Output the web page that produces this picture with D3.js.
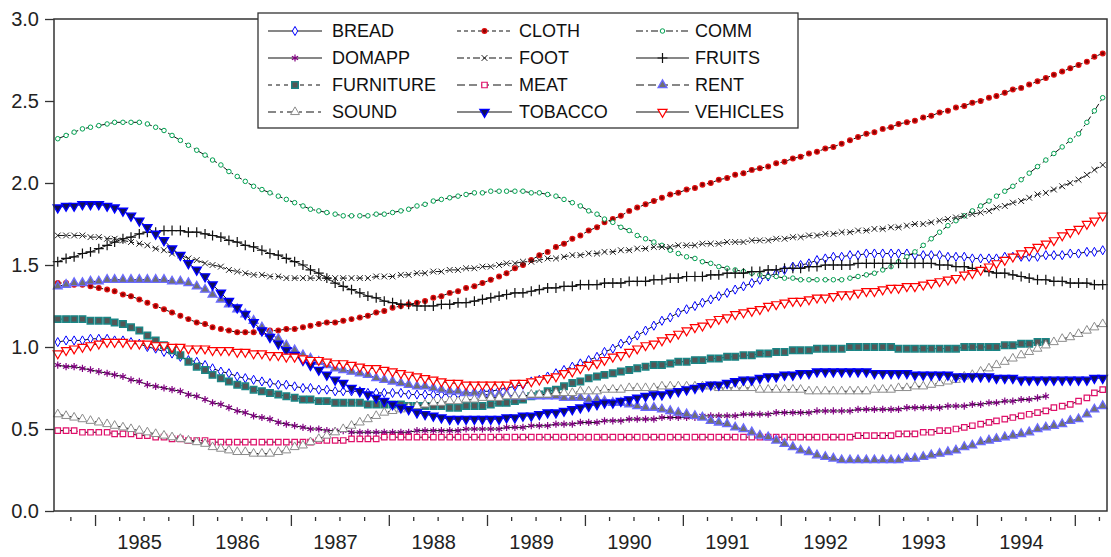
<!DOCTYPE html>
<html>
<head>
<meta charset="utf-8">
<script src="https://cdn.jsdelivr.net/npm/d3@7"></script>
<style>
  body { margin: 0; background: #fff; }
  svg { display: block; font-family: "Liberation Sans", Arial, sans-serif; }
</style>
</head>
<body>
<div id="chart"></div>
<script>
// monthly observations 1984:08 .. 1995:04
var nObs = 129;
var months = d3.range(nObs).map(function (i) { return new Date(1984, 7 + i, 15); });
var yearLabels = d3.range(1985, 1995);
var yTicks = [0, 0.5, 1, 1.5, 2, 2.5, 3];

var bread = [1.03,1.04,1.04,1.04,1.05,1.05, 1.05,1.04,1.04,1.03,1.02,1.00, 0.99,0.97,0.96,0.94,0.92,0.91,
  0.89,0.87,0.85,0.84,0.82,0.81, 0.80,0.79,0.78,0.77,0.77,0.76, 0.75,0.75,0.74,0.74,0.73,0.73,
  0.73,0.73,0.72,0.72,0.72,0.72, 0.72,0.71,0.71,0.71,0.71,0.71, 0.71,0.71,0.72,0.72,0.73,0.73,
  0.74,0.75,0.76,0.77,0.79,0.80, 0.82,0.84,0.86,0.88,0.90,0.92, 0.94,0.97,0.99,1.02,1.04,1.07,
  1.10,1.13,1.16,1.18,1.21,1.23, 1.25,1.27,1.29,1.31,1.33,1.35, 1.37,1.39,1.41,1.43,1.45,1.47,
  1.49,1.50,1.51,1.53,1.54,1.55, 1.55,1.56,1.56,1.57,1.57,1.57, 1.57,1.57,1.57,1.56,1.56,1.56,
  1.56,1.55,1.55,1.55,1.54,1.54, 1.54,1.54,1.55,1.55,1.55,1.55, 1.55,1.56,1.56,1.56,1.57,1.57,
  1.58,1.58,1.59];

var cloth = [1.39,1.39,1.38,1.38,1.37,1.36, 1.35,1.34,1.32,1.31,1.29,1.27, 1.25,1.23,1.21,1.19,1.17,1.15,
  1.14,1.12,1.11,1.10,1.09,1.09, 1.09,1.09,1.10,1.10,1.11,1.11, 1.12,1.13,1.14,1.15,1.15,1.16,
  1.17,1.18,1.19,1.21,1.22,1.24, 1.25,1.26,1.27,1.28,1.30,1.31, 1.33,1.34,1.36,1.37,1.39,1.41,
  1.43,1.45,1.48,1.50,1.53,1.56, 1.58,1.61,1.63,1.66,1.68,1.71, 1.73,1.76,1.78,1.80,1.83,1.85,
  1.87,1.89,1.91,1.93,1.94,1.96, 1.97,1.99,2.00,2.02,2.03,2.05, 2.06,2.08,2.09,2.10,2.12,2.13,
  2.15,2.16,2.18,2.19,2.21,2.22, 2.24,2.26,2.28,2.30,2.31,2.33, 2.34,2.36,2.37,2.38,2.40,2.41,
  2.43,2.44,2.46,2.47,2.49,2.50, 2.52,2.53,2.55,2.57,2.58,2.60, 2.62,2.64,2.66,2.68,2.70,2.72,
  2.74,2.77,2.79];

var comm = [2.27,2.29,2.31,2.33,2.34,2.35, 2.36,2.37,2.37,2.37,2.37,2.36, 2.34,2.32,2.29,2.26,2.23,2.20,
  2.17,2.14,2.11,2.07,2.04,2.01, 1.98,1.96,1.94,1.92,1.90,1.88, 1.86,1.84,1.83,1.82,1.81,1.80,
  1.80,1.80,1.80,1.81,1.81,1.82, 1.83,1.84,1.86,1.87,1.89,1.90, 1.91,1.92,1.93,1.94,1.94,1.95,
  1.95,1.95,1.95,1.95,1.94,1.94, 1.93,1.92,1.90,1.88,1.86,1.83, 1.81,1.78,1.76,1.73,1.71,1.68,
  1.66,1.64,1.62,1.59,1.57,1.55, 1.54,1.52,1.51,1.49,1.48,1.47, 1.46,1.45,1.44,1.43,1.43,1.42,
  1.42,1.41,1.41,1.41,1.41,1.41, 1.41,1.42,1.43,1.44,1.45,1.47, 1.49,1.52,1.55,1.58,1.62,1.66,
  1.70,1.74,1.77,1.80,1.83,1.86, 1.89,1.92,1.95,1.98,2.02,2.06, 2.10,2.14,2.18,2.22,2.26,2.30,
  2.37,2.44,2.52];

var domapp = [0.89,0.88,0.88,0.87,0.86,0.85, 0.84,0.83,0.82,0.80,0.79,0.77, 0.76,0.75,0.74,0.73,0.71,0.70,
  0.68,0.66,0.65,0.63,0.61,0.60, 0.58,0.57,0.56,0.54,0.53,0.52, 0.51,0.50,0.50,0.49,0.49,0.49,
  0.48,0.48,0.48,0.48,0.48,0.48, 0.48,0.48,0.49,0.49,0.49,0.49, 0.49,0.49,0.50,0.50,0.50,0.50,
  0.50,0.51,0.51,0.51,0.52,0.52, 0.52,0.53,0.53,0.53,0.54,0.54, 0.54,0.55,0.55,0.55,0.56,0.56,
  0.56,0.56,0.57,0.57,0.57,0.57, 0.57,0.58,0.58,0.58,0.58,0.58, 0.59,0.59,0.59,0.59,0.60,0.60,
  0.60,0.60,0.60,0.61,0.61,0.61, 0.61,0.61,0.62,0.62,0.62,0.62, 0.62,0.62,0.63,0.63,0.63,0.63,
  0.63,0.64,0.64,0.64,0.65,0.65, 0.66,0.66,0.67,0.67,0.68,0.68, 0.69,0.70];

var foot = [1.68,1.68,1.68,1.68,1.67,1.67, 1.66,1.66,1.65,1.64,1.63,1.62, 1.60,1.59,1.57,1.56,1.54,1.53,
  1.51,1.50,1.49,1.47,1.46,1.45, 1.44,1.44,1.43,1.43,1.42,1.42, 1.42,1.42,1.42,1.42,1.42,1.42,
  1.42,1.42,1.42,1.43,1.43,1.43, 1.44,1.44,1.45,1.45,1.46,1.46, 1.47,1.47,1.48,1.48,1.49,1.49,
  1.50,1.51,1.51,1.52,1.52,1.53, 1.54,1.54,1.55,1.56,1.56,1.57, 1.57,1.58,1.58,1.59,1.59,1.60,
  1.60,1.61,1.61,1.61,1.62,1.62, 1.62,1.63,1.63,1.63,1.64,1.64, 1.64,1.65,1.65,1.65,1.66,1.66,
  1.67,1.67,1.68,1.68,1.69,1.69, 1.70,1.70,1.71,1.71,1.72,1.72, 1.73,1.73,1.74,1.75,1.75,1.76,
  1.77,1.78,1.79,1.80,1.81,1.82, 1.83,1.85,1.86,1.88,1.89,1.91, 1.93,1.94,1.96,1.98,2.00,2.02,
  2.05,2.08,2.11];

var fruits = [1.52,1.54,1.55,1.57,1.58,1.60, 1.62,1.64,1.66,1.67,1.69,1.70, 1.70,1.71,1.71,1.71,1.70,1.70,
  1.69,1.68,1.67,1.65,1.64,1.62, 1.61,1.59,1.57,1.56,1.54,1.52, 1.50,1.47,1.45,1.42,1.39,1.37,
  1.35,1.33,1.31,1.30,1.28,1.27, 1.26,1.26,1.25,1.25,1.25,1.26, 1.26,1.27,1.27,1.28,1.29,1.30,
  1.31,1.32,1.33,1.33,1.34,1.35, 1.36,1.36,1.37,1.37,1.38,1.38, 1.38,1.39,1.39,1.39,1.40,1.40,
  1.40,1.41,1.41,1.42,1.42,1.43, 1.43,1.43,1.44,1.44,1.45,1.45, 1.45,1.46,1.46,1.47,1.47,1.48,
  1.48,1.48,1.49,1.49,1.50,1.50, 1.50,1.50,1.51,1.51,1.51,1.51, 1.51,1.51,1.51,1.51,1.51,1.51,
  1.50,1.50,1.49,1.49,1.48,1.47, 1.46,1.45,1.45,1.44,1.43,1.42, 1.41,1.41,1.40,1.40,1.39,1.39,
  1.39,1.38,1.38];

var furniture = [1.17,1.17,1.17,1.17,1.16,1.16, 1.16,1.15,1.14,1.12,1.10,1.07, 1.04,1.01,0.98,0.95,0.91,0.88,
  0.86,0.83,0.81,0.79,0.77,0.76, 0.74,0.73,0.72,0.71,0.70,0.69, 0.68,0.68,0.67,0.67,0.66,0.66,
  0.66,0.66,0.65,0.65,0.65,0.65, 0.65,0.64,0.64,0.64,0.64,0.64, 0.63,0.63,0.64,0.64,0.64,0.65,
  0.66,0.66,0.67,0.68,0.70,0.71, 0.73,0.74,0.76,0.78,0.79,0.81, 0.82,0.83,0.84,0.85,0.86,0.87,
  0.88,0.89,0.89,0.90,0.91,0.91, 0.92,0.92,0.93,0.93,0.94,0.94, 0.95,0.95,0.96,0.96,0.97,0.97,
  0.98,0.98,0.98,0.99,0.99,0.99, 0.99,1.00,1.00,1.00,1.00,1.00, 1.00,0.99,0.99,0.99,0.99,0.99,
  0.99,0.99,0.99,1.00,1.00,1.00, 1.00,1.00,1.01,1.01,1.02,1.02, 1.03,1.03];

var meat = [0.49,0.49,0.49,0.48,0.48,0.48, 0.48,0.47,0.47,0.47,0.46,0.46, 0.45,0.45,0.44,0.44,0.43,0.43,
  0.43,0.42,0.42,0.42,0.42,0.42, 0.42,0.42,0.42,0.42,0.42,0.42, 0.42,0.42,0.43,0.43,0.43,0.43,
  0.44,0.44,0.44,0.44,0.45,0.45, 0.45,0.45,0.45,0.45,0.45,0.45, 0.45,0.45,0.45,0.45,0.45,0.45,
  0.45,0.45,0.45,0.45,0.45,0.45, 0.45,0.45,0.45,0.45,0.45,0.45, 0.45,0.45,0.45,0.45,0.45,0.45,
  0.45,0.45,0.45,0.45,0.45,0.45, 0.45,0.45,0.45,0.45,0.45,0.45, 0.45,0.45,0.45,0.45,0.45,0.45,
  0.45,0.45,0.45,0.45,0.45,0.45, 0.45,0.45,0.46,0.46,0.46,0.46, 0.46,0.47,0.47,0.47,0.48,0.48,
  0.49,0.49,0.50,0.51,0.52,0.53, 0.54,0.55,0.56,0.57,0.58,0.59, 0.60,0.61,0.63,0.64,0.65,0.67,
  0.69,0.72,0.74];

var rent = [1.37,1.38,1.39,1.39,1.40,1.40, 1.41,1.41,1.41,1.41,1.41,1.41, 1.41,1.41,1.40,1.40,1.39,1.37,
  1.35,1.32,1.29,1.26,1.23,1.20, 1.16,1.12,1.08,1.05,1.01,0.98, 0.95,0.93,0.91,0.89,0.87,0.86,
  0.85,0.84,0.83,0.81,0.80,0.79, 0.78,0.77,0.76,0.76,0.75,0.74, 0.73,0.73,0.72,0.72,0.71,0.71,
  0.71,0.71,0.70,0.70,0.70,0.70, 0.70,0.70,0.69,0.69,0.69,0.68, 0.68,0.67,0.66,0.66,0.65,0.64,
  0.63,0.63,0.62,0.61,0.60,0.59, 0.58,0.57,0.55,0.54,0.53,0.51, 0.50,0.48,0.46,0.45,0.43,0.41,
  0.39,0.37,0.36,0.34,0.33,0.32, 0.31,0.31,0.31,0.31,0.31,0.31, 0.31,0.31,0.32,0.32,0.33,0.34,
  0.35,0.36,0.37,0.39,0.40,0.42, 0.43,0.44,0.45,0.46,0.47,0.48, 0.50,0.51,0.52,0.53,0.55,0.56,
  0.59,0.62,0.64];

var sound = [0.59,0.58,0.57,0.56,0.55,0.54, 0.53,0.52,0.51,0.50,0.49,0.48, 0.47,0.46,0.45,0.44,0.43,0.42,
  0.41,0.39,0.38,0.37,0.36,0.36, 0.35,0.35,0.35,0.36,0.37,0.39, 0.40,0.42,0.44,0.46,0.48,0.50,
  0.52,0.54,0.56,0.58,0.60,0.61, 0.62,0.63,0.64,0.65,0.66,0.66, 0.67,0.67,0.68,0.68,0.69,0.69,
  0.69,0.70,0.70,0.70,0.71,0.71, 0.71,0.72,0.72,0.72,0.73,0.73, 0.73,0.74,0.74,0.74,0.75,0.75,
  0.75,0.75,0.76,0.76,0.76,0.76, 0.76,0.76,0.76,0.75,0.75,0.75, 0.75,0.75,0.74,0.74,0.74,0.74,
  0.74,0.74,0.73,0.73,0.73,0.73, 0.73,0.73,0.73,0.73,0.74,0.74, 0.74,0.75,0.75,0.76,0.76,0.77,
  0.78,0.79,0.80,0.82,0.83,0.85, 0.87,0.89,0.91,0.93,0.95,0.97, 0.99,1.01,1.03,1.05,1.06,1.08,
  1.10,1.12,1.14];

var tobacco = [1.85,1.86,1.86,1.87,1.87,1.87, 1.86,1.85,1.83,1.80,1.77,1.73, 1.69,1.65,1.60,1.56,1.51,1.47,
  1.43,1.38,1.33,1.28,1.24,1.20, 1.15,1.10,1.06,1.02,0.98,0.95, 0.92,0.89,0.86,0.83,0.80,0.78,
  0.75,0.73,0.71,0.69,0.67,0.65, 0.63,0.62,0.60,0.59,0.58,0.57, 0.56,0.56,0.56,0.56,0.56,0.56,
  0.56,0.57,0.57,0.58,0.58,0.59, 0.60,0.60,0.61,0.62,0.63,0.64, 0.65,0.66,0.66,0.67,0.68,0.69,
  0.70,0.71,0.71,0.72,0.73,0.74, 0.75,0.76,0.77,0.77,0.78,0.79, 0.80,0.80,0.81,0.82,0.82,0.83,
  0.83,0.84,0.84,0.85,0.85,0.85, 0.85,0.85,0.85,0.85,0.84,0.84, 0.84,0.84,0.84,0.83,0.83,0.83,
  0.83,0.83,0.82,0.82,0.82,0.82, 0.82,0.81,0.81,0.81,0.80,0.80, 0.80,0.80,0.80,0.80,0.80,0.80,
  0.80,0.81,0.81];

var vehicles = [0.96,0.98,0.99,1.00,1.01,1.02, 1.03,1.03,1.03,1.02,1.02,1.02, 1.01,1.01,1.00,1.00,0.99,0.99,
  0.99,0.98,0.98,0.98,0.97,0.97, 0.96,0.96,0.95,0.95,0.94,0.94, 0.93,0.92,0.92,0.91,0.90,0.90,
  0.89,0.88,0.87,0.87,0.86,0.85, 0.84,0.83,0.82,0.81,0.80,0.79, 0.78,0.78,0.77,0.77,0.77,0.77,
  0.77,0.77,0.78,0.78,0.79,0.80, 0.81,0.82,0.84,0.85,0.87,0.89, 0.90,0.92,0.94,0.95,0.97,0.99,
  1.01,1.02,1.04,1.06,1.08,1.10, 1.12,1.13,1.15,1.17,1.18,1.20, 1.21,1.22,1.23,1.25,1.26,1.27,
  1.28,1.28,1.29,1.30,1.30,1.31, 1.32,1.32,1.33,1.34,1.34,1.35, 1.36,1.36,1.37,1.37,1.38,1.39,
  1.40,1.41,1.42,1.44,1.45,1.47, 1.49,1.51,1.53,1.55,1.57,1.59, 1.61,1.63,1.65,1.68,1.70,1.72,
  1.75,1.77,1.80];

var seriesNames = ["BREAD", "CLOTH", "COMM", "DOMAPP", "FOOT", "FRUITS",
                   "FURNITURE", "MEAT", "RENT", "SOUND", "TOBACCO", "VEHICLES"];
var seriesValues = [bread, cloth, comm, domapp, foot, fruits,
                    furniture, meat, rent, sound, tobacco, vehicles];

// look of each series (line dash + marker)
var styles = {
  BREAD:     { dash: null,       sym: d3.symbolDiamond,  size: 24, fill: "#fff",    stroke: "#0000ff", sw: 1 },
  CLOTH:     { dash: "4,3",      sym: d3.symbolCircle,   size: 18, fill: "#8a0000", stroke: "#e01010", sw: 1.2 },
  COMM:      { dash: "7,3,2,3",  sym: d3.symbolCircle,   size: 16, fill: "#fff",    stroke: "#00a050", sw: 1 },
  DOMAPP:    { dash: null,       sym: d3.symbolAsterisk, size: 36, fill: "none",    stroke: "#800080", sw: 1.2 },
  FOOT:      { dash: "7,3,3,3",  sym: d3.symbolTimes,    size: 24, fill: "none",    stroke: "#222",    sw: 1 },
  FRUITS:    { dash: null,       sym: d3.symbolPlus,     size: 34, fill: "none",    stroke: "#111",    sw: 1.2 },
  FURNITURE: { dash: "4,4",      sym: d3.symbolSquare,   size: 42, fill: "#555",    stroke: "#1a8585", sw: 1.5 },
  MEAT:      { dash: "8,4",      sym: d3.symbolSquare,   size: 30, fill: "#fff",    stroke: "#e0106a", sw: 1.2 },
  RENT:      { dash: "8,4",      sym: d3.symbolTriangle, size: 34, fill: "#707070", stroke: "#6a6aff", sw: 1.3 },
  SOUND:     { dash: "8,4,3,4",  sym: d3.symbolTriangle, size: 34, fill: "#fff",    stroke: "#8c8c8c", sw: 1 },
  TOBACCO:   { dash: null,       sym: d3.symbolTriangle, size: 36, fill: "#10105a", stroke: "#0000ff", sw: 1.4, down: true },
  VEHICLES:  { dash: null,       sym: d3.symbolTriangle, size: 36, fill: "#fff",    stroke: "#ff0000", sw: 1.2, down: true }
};

var W = 1111, H = 557;
var plot = { left: 54, top: 19, right: 1107, bottom: 511 };

var svg = d3.select("#chart").append("svg")
    .attr("width", W)
    .attr("height", H);

var x = d3.scaleTime()
    .domain([new Date(1984, 7, 1), new Date(1995, 4, 1)])
    .range([plot.left, plot.right]);
var y = d3.scaleLinear()
    .domain([0, 3])
    .range([plot.bottom, plot.top]);

// y axis
var yAxis = svg.append("g")
    .attr("transform", "translate(" + plot.left + ",0)")
    .call(d3.axisLeft(y).tickValues(yTicks).tickFormat(d3.format(".1f")).tickSize(9).tickPadding(6));
yAxis.select(".domain").remove();
yAxis.selectAll("line").attr("stroke", "#333").attr("stroke-width", 1.3);
yAxis.selectAll("text").attr("font-size", "20px").attr("fill", "#222")
    .attr("font-family", "'Liberation Sans', Arial, sans-serif");

// x axis: quarterly ticks, longer at year start
var quarters = d3.timeMonth.every(3).range(new Date(1984, 9, 1), new Date(1995, 4, 1));
var xAxis = svg.append("g")
    .attr("transform", "translate(0," + (plot.bottom + 5) + ")")
    .call(d3.axisBottom(x).tickValues(quarters).tickFormat("").tickSize(5));
xAxis.select(".domain").remove();
xAxis.selectAll("line").attr("stroke", "#333").attr("stroke-width", 1.3)
    .attr("y2", function (d) { return d.getMonth() === 0 ? 10 : 5; })
    .attr("y1", function (d) { return d.getMonth() === 0 ? -1 : 1; });

svg.append("g").selectAll("text")
    .data(yearLabels)
    .enter().append("text")
    .attr("x", function (d) { return x(new Date(d, 6, 1)) - 4; })
    .attr("y", 549)
    .attr("text-anchor", "middle")
    .attr("font-size", "20px")
    .attr("fill", "#222")
    .text(function (d) { return d; });

// series
function markerPath(st) {
  return d3.symbol().type(st.sym).size(st.size)();
}

var line = d3.line()
    .defined(function (d) { return d.v != null; })
    .x(function (d) { return x(d.date); })
    .y(function (d) { return y(d.v); });

var gSeries = svg.append("g");
seriesNames.forEach(function (name, k) {
  var st = styles[name];
  var pts = seriesValues[k].map(function (v, i) { return { date: months[i], v: v }; });
  var g = gSeries.append("g");
  g.append("path")
      .datum(pts)
      .attr("fill", "none")
      .attr("stroke", "#111")
      .attr("stroke-width", 1)
      .attr("stroke-dasharray", st.dash)
      .attr("d", line);
  g.selectAll("path.m")
      .data(pts)
      .enter().append("path")
      .attr("class", "m")
      .attr("d", markerPath(st))
      .attr("transform", function (d) {
        return "translate(" + x(d.date) + "," + y(d.v) + ")" + (st.down ? " rotate(180)" : "");
      })
      .attr("fill", st.fill)
      .attr("stroke", st.stroke)
      .attr("stroke-width", st.sw);
});

// frame
svg.append("rect")
    .attr("x", plot.left)
    .attr("y", plot.top)
    .attr("width", plot.right - plot.left)
    .attr("height", plot.bottom - plot.top)
    .attr("fill", "none")
    .attr("stroke", "#333")
    .attr("stroke-width", 1.5);

// legend
var legend = svg.append("g");
legend.append("rect")
    .attr("x", 258).attr("y", 13)
    .attr("width", 540).attr("height", 115)
    .attr("fill", "#fff")
    .attr("stroke", "#333")
    .attr("stroke-width", 1.3);

var colLine = [[268, 322], [457, 512], [636, 689]];
var colText = [332, 519, 695];
var rowY = [31, 58, 85, 112];

seriesNames.forEach(function (name, k) {
  var st = styles[name];
  var c = k % 3, r = Math.floor(k / 3);
  var ly = rowY[r];
  var item = legend.append("g");
  item.append("line")
      .attr("x1", colLine[c][0]).attr("x2", colLine[c][1])
      .attr("y1", ly).attr("y2", ly)
      .attr("stroke", "#111")
      .attr("stroke-width", 1.2)
      .attr("stroke-dasharray", st.dash);
  item.append("path")
      .attr("d", markerPath(st))
      .attr("transform", "translate(" + ((colLine[c][0] + colLine[c][1]) / 2) + "," + ly + ")" + (st.down ? " rotate(180)" : ""))
      .attr("fill", st.fill)
      .attr("stroke", st.stroke)
      .attr("stroke-width", st.sw);
  item.append("text")
      .attr("x", colText[c])
      .attr("y", ly)
      .attr("dy", "0.36em")
      .attr("font-size", "18px")
      .attr("fill", "#111")
      .text(name);
});
</script>
</body>
</html>
